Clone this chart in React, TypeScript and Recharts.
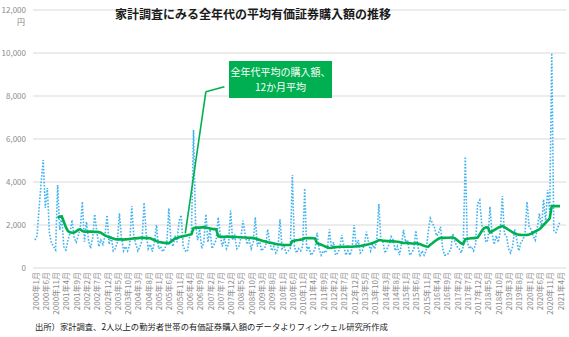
import { CartesianGrid, Line, LineChart, ReferenceLine, XAxis, YAxis } from "recharts";

// 月次の有価証券購入額（円）2000年1月〜2021年4月
const monthly = [
  1300, 1500, 2800, 4000, 5020, 2800, 3720, 1630, 1160, 990, 840, 3860, // 2000
  1770, 2390, 990, 840, 1300, 1600, 2230, 1400, 1200, 1500, 1860, 3080, // 2001
  1225, 2150, 1300, 915, 1400, 2500, 1700, 1000, 1300, 1100, 1500, 2460, // 2002
  1100, 1500, 800, 900, 1200, 2540, 1400, 800, 1000, 800, 1100, 2880, // 2003
  1500, 1100, 800, 1000, 1300, 3040, 1600, 900, 1100, 760, 1200, 2000, // 2004
  900, 1000, 760, 900, 1100, 2780, 1300, 1000, 1500, 1200, 2200, 2460, // 2005
  1000, 800, 760, 1400, 1700, 6420, 2000, 1300, 1800, 900, 1200, 2500, // 2006
  1200, 1800, 900, 1100, 1300, 2360, 1500, 1000, 1400, 900, 1100, 2670, // 2007
  1300, 1500, 900, 1000, 1400, 2200, 1600, 1100, 1300, 900, 1200, 2360, // 2008
  1000, 1300, 800, 900, 1000, 1800, 1200, 800, 1000, 700, 900, 2260, // 2009
  900, 1000, 700, 800, 900, 4330, 1000, 700, 900, 800, 1000, 3710, // 2010
  800, 1000, 600, 700, 900, 1650, 900, 600, 800, 700, 900, 1800, // 2011
  900, 1200, 600, 700, 900, 1535, 1000, 600, 800, 600, 900, 2000, // 2012
  1000, 1300, 700, 800, 1100, 1690, 1200, 800, 1100, 900, 1300, 2980, // 2013
  1300, 1200, 700, 900, 1100, 1460, 1300, 800, 1000, 600, 1100, 1770, // 2014
  1200, 1300, 600, 700, 900, 1740, 1000, 530, 800, 600, 800, 1700, // 2015
  2310, 2100, 1900, 1500, 1600, 1920, 900, 600, 600, 700, 900, 1600, // 2016
  1200, 1000, 900, 700, 1000, 5180, 1200, 900, 1000, 800, 1100, 3000, // 2017
  3160, 2000, 1800, 1200, 1300, 2850, 1600, 1100, 1500, 1200, 1700, 3350, // 2018
  1600, 1500, 900, 700, 1000, 1800, 1300, 800, 1200, 1300, 1600, 3080, // 2019
  1900, 1800, 1500, 1300, 1900, 2540, 1800, 3190, 2200, 3630, 2600, 9990, // 2020
  1700, 1650, 1900, 2150, // 2021
];

// 12か月平均
const avg12 = [
  null, null, null, null, null, null, null, null, null, null, null, 2330,
  2390, 2400, 2150, 1900, 1720, 1660, 1640, 1650, 1700, 1780, 1800, 1720,
  1700, 1690, 1690, 1700, 1690, 1680, 1680, 1670, 1640, 1580, 1520, 1470,
  1440, 1400, 1370, 1340, 1330, 1330, 1330, 1320, 1330, 1340, 1350, 1360,
  1380, 1380, 1390, 1400, 1400, 1400, 1390, 1390, 1380, 1340, 1300, 1250,
  1220, 1200, 1180, 1170, 1160, 1150, 1230, 1300, 1370, 1400, 1430, 1460,
  1480, 1500, 1520, 1550, 1570, 1850, 1870, 1880, 1880, 1890, 1900, 1880,
  1860, 1840, 1820, 1810, 1800, 1470, 1460, 1450, 1450, 1460, 1460, 1450,
  1450, 1440, 1440, 1430, 1430, 1420, 1420, 1410, 1400, 1400, 1390, 1370,
  1340, 1310, 1280, 1250, 1230, 1200, 1180, 1160, 1140, 1120, 1100, 1090,
  1080, 1070, 1070, 1070, 1070, 1260, 1270, 1290, 1300, 1320, 1340, 1380,
  1390, 1390, 1390, 1380, 1370, 1150, 1120, 1080, 1040, 1000, 960, 930,
  940, 960, 970, 980, 990, 990, 990, 990, 1000, 990, 990, 1000,
  1000, 1010, 1020, 1040, 1060, 1080, 1100, 1130, 1160, 1200, 1240, 1300,
  1290, 1270, 1260, 1250, 1250, 1240, 1240, 1230, 1220, 1210, 1180, 1160,
  1160, 1150, 1150, 1140, 1140, 1150, 1140, 1110, 1070, 1030, 1000, 990,
  1080, 1150, 1230, 1300, 1360, 1400, 1400, 1400, 1410, 1410, 1420, 1420,
  1380, 1300, 1220, 1150, 1110, 1340, 1360, 1370, 1380, 1390, 1400, 1420,
  1560, 1720, 1850, 1890, 1880, 1650, 1700, 1760, 1820, 1880, 1920, 1950,
  1900, 1840, 1780, 1720, 1660, 1610, 1570, 1550, 1540, 1535, 1535, 1540,
  1560, 1600, 1650, 1700, 1750, 1800, 1900, 2000, 2100, 2200, 2310, 2880,
  2880, 2880, 2880, 2880,
];

const yTicks = [0, 2000, 4000, 6000, 8000, 10000, 12000];

const months: string[] = [];
for (let y = 2000; y <= 2021; y++) {
  for (let m = 1; m <= 12; m++) {
    if (months.length < monthly.length) months.push(`${y}年${m}月`);
  }
}

const data = months.map((label, i) => ({ label, monthly: monthly[i], avg: avg12[i] }));

const font = "'Noto Sans CJK JP', 'Noto Sans', sans-serif";
const green = "#00b050";

const XTick = (props: any) => {
  const { x, y, payload } = props;
  const ty = y - 4;
  return (
    <text
      x={x}
      y={ty}
      transform={`rotate(-90 ${x} ${ty})`}
      textAnchor="end"
      dominantBaseline="central"
      fontSize={8}
      fill="#8c8c8c"
      fontFamily={font}
    >
      {payload.value}
    </text>
  );
};

export default function App() {
  return (
    <div
      style={{
        position: "fixed",
        left: 0,
        top: 0,
        width: 569,
        height: 337,
        background: "#fff",
        fontFamily: font,
      }}
    >
      <LineChart
        width={569}
        height={337}
        data={data}
        margin={{ top: 10, right: 3, bottom: 24, left: 0 }}
      >
        <CartesianGrid vertical={false} stroke="#d9d9d9" />
        <XAxis
          dataKey="label"
          interval={4}
          tick={<XTick />}
          tickLine={false}
          axisLine={false}
          height={45}
          padding={{ left: 2, right: 6 }}
        />
        <YAxis
          domain={[0, 12000]}
          ticks={yTicks}
          width={33}
          tickLine={false}
          axisLine={false}
          tickSize={5}
          tickFormatter={(v: number) => v.toLocaleString("en-US")}
          tick={{ fontSize: 8, fill: "#8c8c8c", fontFamily: font }}
        />
        <Line
          dataKey="monthly"
          stroke="#3fb2ef"
          strokeWidth={1.6}
          strokeDasharray="1.6 1.6"
          dot={false}
          isAnimationActive={false}
        />
        <Line
          dataKey="avg"
          stroke={green}
          strokeWidth={2.6}
          dot={false}
          connectNulls={false}
          isAnimationActive={false}
        />
        <ReferenceLine
          segment={[
            { x: "2006年2月", y: 1614 },
            { x: "2006年12月", y: 8200 },
          ]}
          stroke={green}
          strokeWidth={1.6}
          ifOverflow="visible"
        />
        <ReferenceLine
          segment={[
            { x: "2006年12月", y: 8200 },
            { x: "2007年9月", y: 8430 },
          ]}
          stroke={green}
          strokeWidth={1.6}
          ifOverflow="visible"
        />
      </LineChart>
      <div
        style={{
          position: "absolute",
          left: 115,
          top: 5,
          width: 276,
          textAlign: "center",
          fontSize: 12,
          fontWeight: 700,
          color: "#1a1a1a",
          whiteSpace: "nowrap",
        }}
      >
        家計調査にみる全年代の平均有価証券購入額の推移
      </div>
      <div
        style={{
          position: "absolute",
          left: 17,
          top: 16,
          fontSize: 8,
          color: "#7f7f7f",
        }}
      >
        円
      </div>
      <div
        style={{
          position: "absolute",
          left: 229,
          top: 61,
          width: 103,
          height: 37,
          background: green,
          color: "#fff",
          fontSize: 10,
          lineHeight: "15px",
          textAlign: "center",
          paddingTop: 3,
          boxSizing: "border-box",
        }}
      >
        全年代平均の購入額、
        <br />
        12か月平均
      </div>
      <div
        style={{
          position: "absolute",
          left: 35,
          top: 320,
          fontSize: 8.3,
          color: "#1a1a1a",
          whiteSpace: "nowrap",
        }}
      >
        出所）家計調査、2人以上の勤労者世帯の有価証券購入額のデータよりフィンウェル研究所作成
      </div>
    </div>
  );
}
